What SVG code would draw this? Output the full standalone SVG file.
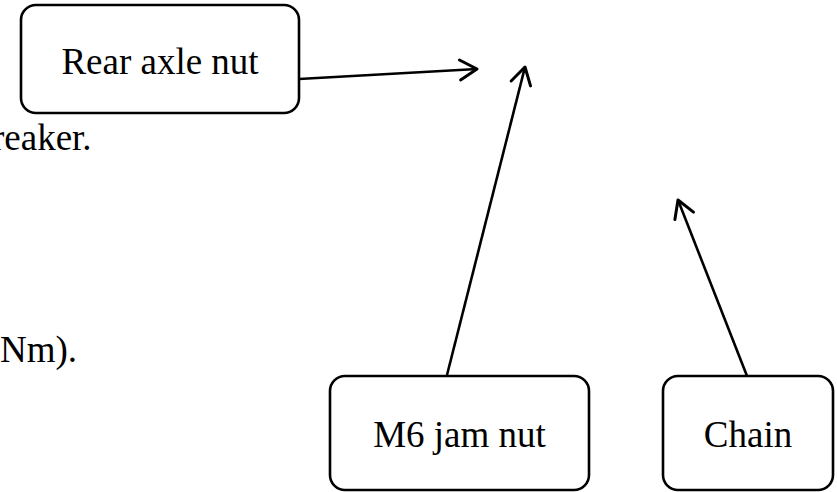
<svg xmlns="http://www.w3.org/2000/svg" width="837" height="492" viewBox="0 0 837 492">
<style>
.box{fill:#fff;stroke:#000;stroke-width:2.6}
.lbl{font-family:"Liberation Serif","Times New Roman",serif;font-size:37px;fill:#000}
.conn{fill:none;stroke:#000;stroke-width:2.6;marker-end:url(#arr)}
</style>
<defs>
<marker id="arr" markerUnits="userSpaceOnUse" markerWidth="30" markerHeight="30" viewBox="-25 -15 30 30" refX="0" refY="0" orient="auto" overflow="visible">
<path d="M-17,-10 L0,0 L-17,10" fill="none" stroke="#000" stroke-width="3" stroke-linecap="round" stroke-linejoin="round"/>
</marker>
</defs>
<rect width="837" height="492" fill="#fff"/>
<text class="lbl" x="-8" y="150">reaker.</text>
<text class="lbl" x="0" y="362">Nm).</text>
<g id="connectors">
<path class="conn" d="M299,79 L477,69"/>
<path class="conn" d="M447,375 L525,67"/>
<path class="conn" d="M747,376 L678,200"/>
</g>
<g id="rear-axle-nut">
<rect class="box" x="21" y="5" width="278" height="108" rx="15"/>
<text class="lbl" x="160" y="74" text-anchor="middle">Rear axle nut</text>
</g>
<g id="m6-jam-nut">
<rect class="box" x="330" y="376" width="259" height="114" rx="15"/>
<text class="lbl" x="459.5" y="447" text-anchor="middle">M6 jam nut</text>
</g>
<g id="chain">
<rect class="box" x="663" y="376" width="170" height="114" rx="15"/>
<text class="lbl" x="748" y="447" text-anchor="middle">Chain</text>
</g>
</svg>
